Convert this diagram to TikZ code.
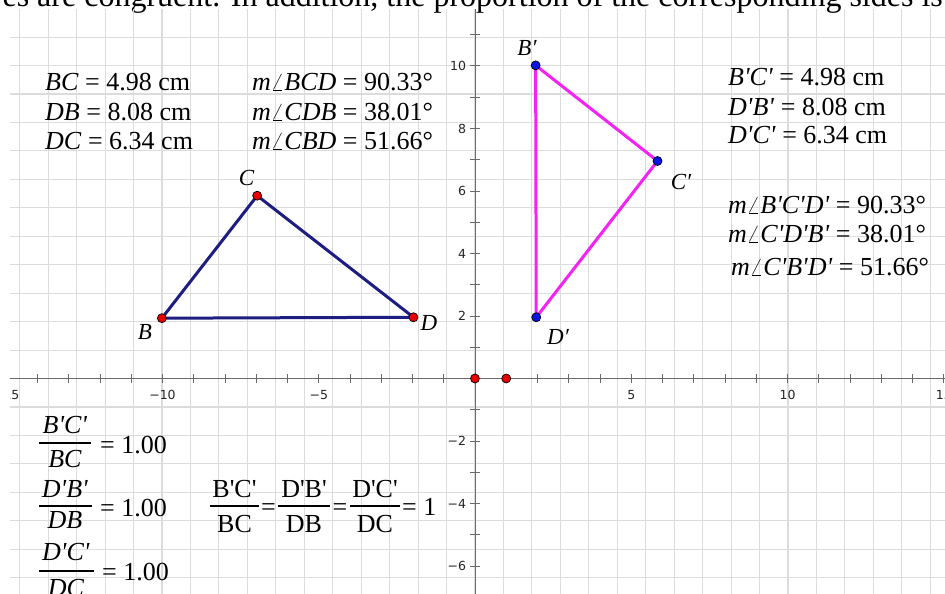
\documentclass[tikz,border=0pt]{standalone}
\usepackage{fontspec}
\setmainfont{Liberation Serif}[Ligatures=TeXOff]
\newfontfamily\axfont{DejaVu Sans}
\definecolor{gridc}{HTML}{DCDCDC}
\definecolor{axisc}{HTML}{6A6A6A}
\definecolor{navyc}{HTML}{1E1E82}
\definecolor{magc}{HTML}{F522F5}
\definecolor{ptred}{HTML}{E80000}
\definecolor{ptblue}{HTML}{0A14E6}
\begin{document}
\begin{tikzpicture}[x=1pt,y=-1pt,
  meas/.style={font=\fontsize{26}{30}\selectfont, anchor=base west, inner sep=0pt},
  numr/.style={font=\fontsize{26}{30}\selectfont, anchor=base, inner sep=0pt},
  vlabel/.style={font=\fontsize{23}{26}\selectfont\itshape, inner sep=0pt},
  axlab/.style={font=\axfont\fontsize{12.5}{14}\selectfont, text=black!85, inner sep=0pt},
  rdot/.style={circle, fill=ptred, draw=black, line width=0.7pt, minimum size=9pt, inner sep=0pt},
  bdot/.style={circle, fill=ptblue, draw=black, line width=0.7pt, minimum size=9pt, inner sep=0pt},
  fbar/.style={line width=1.1pt}]
\useasboundingbox (0,0) rectangle (945,594);
\clip (0,0) rectangle (945,594);
\fill[white] (0,0) rectangle (945,594);
% cropped caption text at top
\node[anchor=base east, font=\fontsize{32}{34}\selectfont, inner sep=0pt] (caption) at (943,7) {es are congruent. In addition, the proportion of the corresponding sides is};
\begin{scope}
\clip (10,9) rectangle (945,594);
\begin{scope}[shift={(475,378.5)}, x=31.25pt, y=31.25pt]
  \draw[gridc, line width=1.1pt] (-14.88,-7) grid (15.1,11.82);
  \draw[axisc, line width=1pt] (-14.88,0) -- (15.1,0);
  \draw[axisc, line width=1pt] (0,11.82) -- (0,-7);
  \foreach \i in {-14,...,15} \draw[axisc, line width=1pt] (\i,-0.15) -- (\i,0.15);
  \foreach \j in {-6,...,11} \draw[axisc, line width=1pt] (-0.15,\j) -- (0.15,\j);
  \foreach \i/\t in {-15/−15,-10/−10,-5/−5,5/5,10/10,15/15}
    \node[axlab] (xl\i) at (\i,-0.53) {\t};
  \foreach \j/\t in {10/10,8/8,6/6,4/4,2/2,-2/−2,-4/−4,-6/−6}
    \node[axlab, anchor=east] (yl\j) at (-0.28,\j) {\t};
  % triangle BCD
  \coordinate (B) at (-10.02,1.93);
  \coordinate (C) at (-6.97,5.85);
  \coordinate (D) at (-1.97,1.96);
  \draw[navyc, line width=3pt, line join=round] (B) -- (C) -- (D) -- cycle;
  % triangle B'C'D'
  \coordinate (B1) at (1.94,10.02);
  \coordinate (C1) at (5.84,6.96);
  \coordinate (D1) at (1.96,1.96);
  \draw[magc, line width=3pt, line join=round] (B1) -- (C1) -- (D1) -- cycle;
  \node[rdot] (Bd) at (B) {};
  \node[rdot] (Cd) at (C) {};
  \node[rdot] (Dd) at (D) {};
  \node[bdot] (B1d) at (B1) {};
  \node[bdot] (C1d) at (C1) {};
  \node[bdot] (D1d) at (D1) {};
  \node[rdot] (O) at (0,0) {};
  \node[rdot] (U) at (1,0) {};
\end{scope}
\end{scope}
% vertex labels
\node[vlabel] (lC) at (246.5,178) {C};
\node[vlabel] (lB) at (145,332) {B};
\node[vlabel] (lD) at (429,323) {D};
\node[vlabel] (lB1) at (527,48) {B′};
\node[vlabel] (lC1) at (681,182) {C′};
\node[vlabel] (lD1) at (558,337) {D′};
% measurements left
\node[meas] (m1) at (45,90) {\textit{BC} = 4.98 cm};
\node[meas] (m2) at (45,120) {\textit{DB} = 8.08 cm};
\node[meas] (m3) at (45,149) {\textit{DC} = 6.34 cm};
\node[meas] (a1) at (252,90) {\textit{m}$\angle$\textit{BCD} = 90.33°};
\node[meas] (a2) at (252,120) {\textit{m}$\angle$\textit{CDB} = 38.01°};
\node[meas] (a3) at (252,149) {\textit{m}$\angle$\textit{CBD} = 51.66°};
% measurements right
\node[meas] (m4) at (728,85) {\textit{B'C'} = 4.98 cm};
\node[meas] (m5) at (728,115) {\textit{D'B'} = 8.08 cm};
\node[meas] (m6) at (728,143) {\textit{D'C'} = 6.34 cm};
\node[meas] (a4) at (728,213) {\textit{m}$\angle$\textit{B'C'D'} = 90.33°};
\node[meas] (a5) at (728,242) {\textit{m}$\angle$\textit{C'D'B'} = 38.01°};
\node[meas] (a6) at (731,275) {\textit{m}$\angle$\textit{C'B'D'} = 51.66°};
% ratio fractions
\node[numr] (f1n) at (65,433) {\textit{B'C'}};
\draw[fbar] (39,443) -- (91,443);
\node[numr] (f1d) at (65,467) {\textit{BC}};
\node[meas] (f1e) at (100,453) {= 1.00};
\node[numr] (f2n) at (65,497) {\textit{D'B'}};
\draw[fbar] (39,506) -- (92,506);
\node[numr] (f2d) at (65,528) {\textit{DB}};
\node[meas] (f2e) at (100,516) {= 1.00};
\node[numr] (f3n) at (66,560) {\textit{D'C'}};
\draw[fbar] (39,571) -- (94,571);
\node[numr] (f3d) at (66,596) {\textit{DC}};
\node[meas] (f3e) at (102,580) {= 1.00};
% combined proportion
\node[numr] (g1n) at (234.5,497) {B'C'};
\draw[fbar] (210,506) -- (259,506);
\node[numr] (g1d) at (234.5,532) {BC};
\node[numr] (g1e) at (268.5,515) {=};
\node[numr] (g2n) at (304,497) {D'B'};
\draw[fbar] (278,506) -- (330,506);
\node[numr] (g2d) at (304,532) {DB};
\node[numr] (g2e) at (340,515) {=};
\node[numr] (g3n) at (375,497) {D'C'};
\draw[fbar] (350,506) -- (400,506);
\node[numr] (g3d) at (375,532) {DC};
\node[meas] (g3e) at (402,515) {= 1};
\end{tikzpicture}
\end{document}
